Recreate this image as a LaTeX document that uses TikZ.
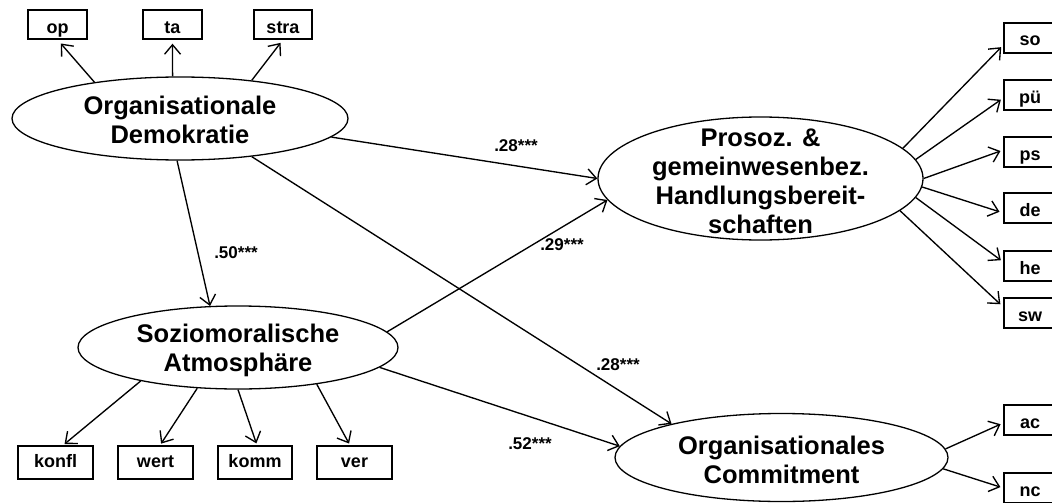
\documentclass[tikz,border=0pt]{standalone}
\usepackage{fontspec}
\setmainfont{Liberation Sans}
\usetikzlibrary{arrows.meta,shapes.geometric}
\begin{document}
\begin{tikzpicture}[x=1pt,y=-1pt,
  lat/.style={draw, ellipse, inner sep=0pt, line width=1.3pt},
  lattext/.style={align=center, inner sep=0pt, font=\fontsize{25.5}{29}\selectfont\bfseries},
  ind/.style={draw, rectangle, inner sep=0pt, line width=1.4pt, font=\fontsize{18}{20}\selectfont\bfseries},
  topind/.style={ind, minimum height=29pt, text height=23pt, text depth=5.6pt},
  botind/.style={ind, minimum height=33pt, text height=13pt, text depth=2.2pt},
  rind/.style={ind, minimum width=52pt, minimum height=30pt, text height=20pt, text depth=4pt},
  pth/.style={line width=1.35pt, -{Straight Barb[length=9.5pt,width=16pt,line width=1.35pt]}},
  coef/.style={font=\fontsize{17}{20}\selectfont\bfseries, inner sep=0pt}]
\useasboundingbox (0,0) rectangle (1052,503);
\fill[white] (0,0) rectangle (1052,503);

% latent variables
\node[lat, minimum width=336pt, minimum height=83pt,
  label={[lattext, yshift=-1.5pt]center:Organisationale\\Demokratie}] (OD) at (180,118.5) {};
\node[lat, minimum width=325pt, minimum height=123pt,
  label={[lattext, yshift=-3pt]center:Prosoz. \&\\gemeinwesenbez.\\Handlungsbereit-\\schaften}] (PR) at (760.5,178.5) {};
\node[lat, minimum width=320pt, minimum height=83pt,
  label={[lattext, yshift=-2.5pt]center:Soziomoralische\\Atmosphäre}] (SA) at (238,347.5) {};
\node[lat, minimum width=333pt, minimum height=88pt,
  label={[lattext, yshift=-2pt]center:Organisationales\\Commitment}] (OC) at (781.5,457.5) {};

% indicators of OD
\node[topind, minimum width=59pt] (op) at (57.5,24.5) {op};
\node[topind, minimum width=59pt] (ta) at (172.5,24.5) {ta};
\node[topind, minimum width=58pt] (stra) at (283,24.5) {stra};

% indicators of SA
\node[botind, minimum width=75pt] (konfl) at (55.5,462.5) {konfl};
\node[botind, minimum width=75pt] (wert) at (155.5,462.5) {wert};
\node[botind, minimum width=74pt] (komm) at (255,462.5) {komm};
\node[botind, minimum width=75pt] (ver) at (354.5,462.5) {ver};

% indicators of PR
\node[rind] (so) at (1030,38) {so};
\node[rind] (pu) at (1030,95) {pü};
\node[rind] (ps) at (1030,152) {ps};
\node[rind] (de) at (1030,208) {de};
\node[rind] (he) at (1030,266) {he};
\node[rind] (sw) at (1030,313) {sw};

% indicators of OC
\node[rind] (ac) at (1030,420) {ac};
\node[rind] (nc) at (1030,488) {nc};

% loadings OD
\draw[pth, shorten >=5pt] (OD.157) -- (op.south);
\draw[pth, shorten >=4pt] (OD.100) -- (ta.south);
\draw[pth, shorten >=4pt] (OD.28) -- (stra.south);

% loadings SA
\draw[pth, shorten >=2pt] (SA.-161) -- ([xshift=7.5pt]konfl.north);
\draw[pth, shorten >=2pt] (SA.-135) -- ([xshift=4.5pt]wert.north);
\draw[pth, shorten >=2pt] (SA.-90) -- ([xshift=2pt]komm.north);
\draw[pth, shorten >=2pt] (SA.-25.3) -- ([xshift=-4.5pt]ver.north);

% loadings PR
\draw[pth, shorten >=3pt] (PR.12.2) -- ([yshift=-7pt]so.west);
\draw[pth, shorten >=3pt] (PR.7.6) -- ([yshift=-3pt]pu.west);
\draw[pth, shorten >=3pt] (PR.0.5) -- ([yshift=2pt]ps.west);
\draw[pth, shorten >=4pt] (PR.-3.4) -- ([yshift=-5pt]de.west);
\draw[pth, shorten >=3pt] (PR.-7.9) -- ([yshift=4pt]he.west);
\draw[pth, shorten >=4pt] (PR.-13.7) -- ([yshift=6pt]sw.west);

% loadings OC
\draw[pth, shorten >=3pt] (OC.3.7) -- ([yshift=-3pt]ac.west);
\draw[pth, shorten >=3pt] (OC.-4) -- (nc.west);

% structural paths
\draw[pth] (OD.-7) -- (PR.180);
\draw[pth] (OD.-94) -- (SA.124.4);
\draw[pth] (OD.-28) -- (OC.163.2);
\draw[pth] (SA.6.9) -- (PR.-172.1);
\draw[pth] (SA.-8.2) -- (OC.176.3);

% coefficients
\node[coef] (c1) at (516,146) {.28***};
\node[coef] (c2) at (236,253) {.50***};
\node[coef] (c3) at (562,245) {.29***};
\node[coef] (c4) at (618,365) {.28***};
\node[coef] (c5) at (530,444) {.52***};
\end{tikzpicture}
\end{document}
